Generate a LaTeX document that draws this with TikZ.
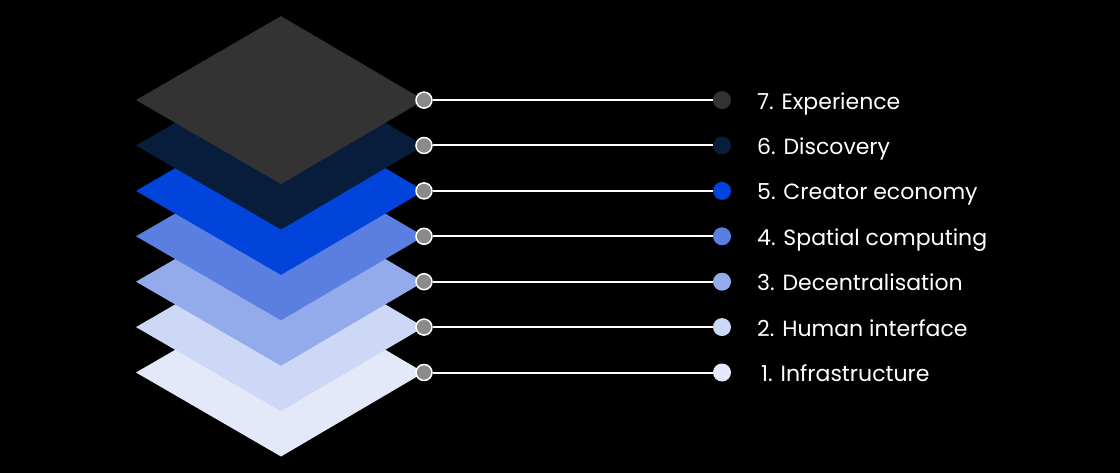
\documentclass[tikz,border=0pt]{standalone}
\usepackage{fontspec}
\setmainfont{Poppins}
\definecolor{cA}{HTML}{E3E9F8}
\definecolor{cB}{HTML}{CCD8F5}
\definecolor{cC}{HTML}{93ABEA}
\definecolor{cD}{HTML}{5B7FE0}
\definecolor{cE}{HTML}{0044DC}
\definecolor{cF}{HTML}{081D3B}
\definecolor{cG}{HTML}{333333}
\definecolor{knob}{HTML}{8A8A8A}
\tikzset{
  layer/.style={fill=#1, draw=none},
  knobdot/.style={circle, fill=knob, draw=white, line width=1.5pt, minimum size=16pt, inner sep=0pt},
  enddot/.style={circle, fill=#1, minimum size=18pt, inner sep=0pt},
  link/.style={draw=white, line width=2pt},
  lbl/.style={anchor=base west, text=white, font=\fontsize{22}{24}\selectfont, inner sep=0pt}
}
\begin{document}
\begin{tikzpicture}[x=1pt,y=-1pt]
\fill[black] (0,0) rectangle (1120,473);
\useasboundingbox (0,0) rectangle (1120,473);
\foreach \c [count=\i from 0] in {cA,cB,cC,cD,cE,cF,cG}{
  \pgfmathsetmacro{\yy}{372.5-45.4*\i}
  \fill[layer=\c] (136,\yy) -- (281,\yy-84) -- (424,\yy) -- (281,\yy+84) -- cycle;
}
\foreach \c/\t/\dx [count=\i from 0] in {cA/{1. Infrastructure}/4,cB/{2. Human interface}/0,cC/{3. Decentralisation}/0,cD/{4. Spatial computing}/0,cE/{5. Creator economy}/0,cF/{6. Discovery}/0,cG/{7. Experience}/0}{
  \pgfmathsetmacro{\yy}{372.5-45.4*\i}
  \node[knobdot] (k\i) at (424,\yy) {};
  \node[enddot=\c] (e\i) at (722,\yy) {};
  \draw[link] (k\i) -- (e\i);
  \node[lbl] (t\i) at (757+\dx,\yy+9) {\t};
}
\end{tikzpicture}
\end{document}
